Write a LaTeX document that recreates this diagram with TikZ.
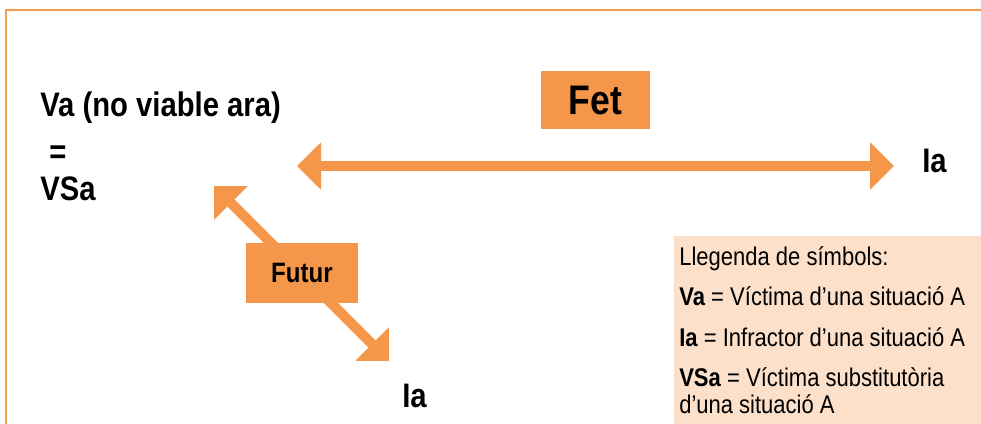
\documentclass[tikz,border=0pt]{standalone}
\usepackage{fontspec}
\setmainfont{Liberation Sans}[FakeStretch=0.86]
\usetikzlibrary{arrows.meta}
\definecolor{ora}{HTML}{F4974A}
\definecolor{peach}{HTML}{FCE0CA}
\definecolor{frm}{HTML}{F59A4E}
\tikzset{
  px/.style={x=0.75pt,y=-0.75pt},
  bigarrow/.style={draw=ora,line width=7.5pt,line cap=butt,
    {Triangle[length=18pt,width=34.5pt]}-{Triangle[length=18pt,width=34.5pt]}},
  labelbox/.style={fill=ora,inner sep=0pt,font=\bfseries},
  bigtxt/.style={inner sep=0pt,anchor=base west,font=\fontsize{25.5pt}{29pt}\selectfont\bfseries},
  legtxt/.style={inner sep=0pt,anchor=base west,font=\fontsize{19.2pt}{22pt}\selectfont},
}
\begin{document}
\begin{tikzpicture}[px]
\useasboundingbox (0,0) rectangle (981,424);
% frame
\coordinate (fbl) at (6,424);
\coordinate (ftl) at (6,10);
\coordinate (ftr) at (981,10);
\draw[frm,line width=1.7pt] (fbl) -- (ftl) -- (ftr);
% legend box
\node[fill=peach,inner sep=0pt,minimum width=307*0.75pt,minimum height=188*0.75pt,anchor=north west] (legend) at (674,236) {};
% texts
\node[bigtxt] (va) at (40,117) {Va (no viable ara)};
\node[bigtxt] (eq) at (49,164) {=};
\node[bigtxt] (vsa) at (40,200) {VSa};
\node[bigtxt] (iar) at (922,172) {Ia};
\node[bigtxt] (iab) at (402,407) {Ia};
% horizontal arrow
\coordinate (hl) at (297,166);
\coordinate (hr) at (894,166);
\draw[bigarrow] (hl) -- (hr);
% diagonal arrow
\coordinate (dtl) at (214,186);
\coordinate (dbr) at (389,361);
\draw[bigarrow] (dtl) -- (dbr);
% label boxes
\node[labelbox,minimum width=109*0.75pt,minimum height=58*0.75pt,font=\fontsize{31pt}{34pt}\selectfont\bfseries] (fet) at (595.5,100) {Fet};
\node[labelbox,minimum width=112*0.75pt,minimum height=60*0.75pt,font=\fontsize{21pt}{24pt}\selectfont\bfseries] (futur) at (302,273) {Futur};
% legend text
\node[legtxt] (l1) at (679,265) {Llegenda de símbols:};
\node[legtxt] (l2) at (679,305) {\textbf{Va} = Víctima d’una situació A};
\node[legtxt] (l3) at (679,346) {\textbf{Ia} = Infractor d’una situació A};
\node[legtxt] (l4) at (679,386) {\textbf{VSa} = Víctima substitutòria};
\node[legtxt] (l5) at (679,413) {d’una situació A};
\end{tikzpicture}
\end{document}
